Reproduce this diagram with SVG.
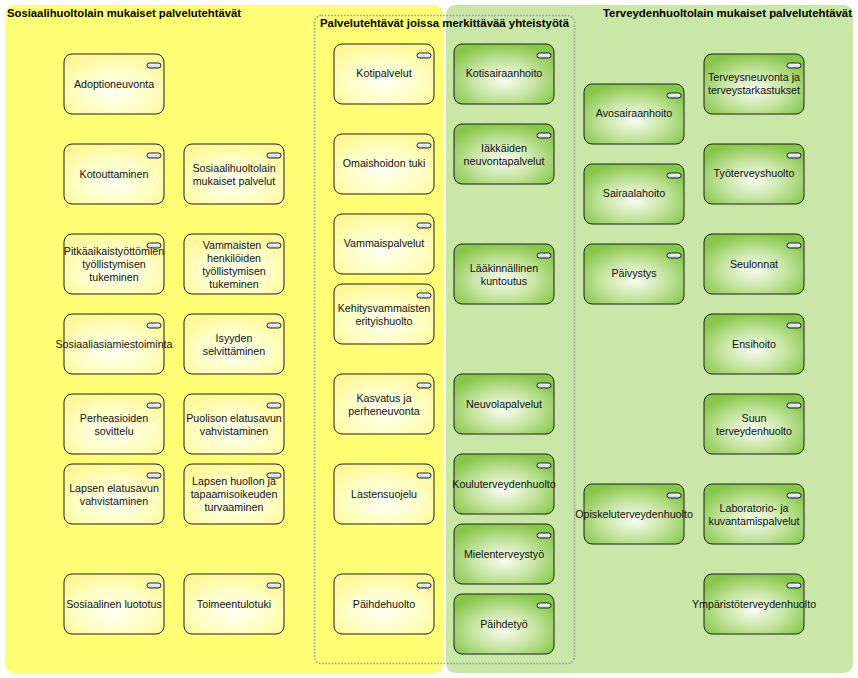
<svg xmlns="http://www.w3.org/2000/svg" width="858" height="678" viewBox="0 0 858 678">
<defs>
<radialGradient id="gy" cx="0.5" cy="0.62" r="0.62">
<stop offset="0" stop-color="#fffff4"/>
<stop offset="0.55" stop-color="#ffffc8"/>
<stop offset="1" stop-color="#fff89a"/>
</radialGradient>
<radialGradient id="gg" cx="0.5" cy="0.6" r="0.62">
<stop offset="0" stop-color="#f9fdf4"/>
<stop offset="0.5" stop-color="#c6e5a2"/>
<stop offset="1" stop-color="#86c648"/>
</radialGradient>
<linearGradient id="gp" x1="0" y1="0" x2="0" y2="1">
<stop offset="0" stop-color="#ffffff"/>
<stop offset="1" stop-color="#bcd2ea"/>
</linearGradient>
</defs>
<style>
.box{stroke:#1e1e1e;stroke-width:1}
.yellow .box{fill:url(#gy)}
.green .box{fill:url(#gg)}
.pill{fill:url(#gp);stroke:#1e1e1e;stroke-width:1}
.node text{font-family:"Liberation Sans",Arial,sans-serif;font-size:10.7px;fill:#111;text-anchor:middle}
.title{font-family:"Liberation Sans",Arial,sans-serif;font-size:11.5px;font-weight:bold;fill:#000}
</style>
<rect width="858" height="678" fill="#ffffff"/>
<g id="grp-sosiaali">
<rect x="5" y="5" width="438" height="668" rx="9" fill="#ffff75"/>
<text class="title" x="7" y="17" textLength="234" lengthAdjust="spacingAndGlyphs">Sosiaalihuoltolain mukaiset palvelutehtävät</text>
</g>
<g id="grp-terveys">
<rect x="446" y="5" width="407" height="668" rx="9" fill="#c9e7a7"/>
<text class="title" x="603" y="17" textLength="249" lengthAdjust="spacingAndGlyphs">Terveydenhuoltolain mukaiset palvelutehtävät</text>
</g>
<g id="grp-yhteistyo">
<rect x="314.5" y="15.5" width="260" height="648" rx="7" fill="none" stroke="#9a9a9a" stroke-width="1.6" stroke-dasharray="1.6,1.6"/>
<text class="title" x="320" y="27" textLength="249" lengthAdjust="spacingAndGlyphs">Palvelutehtävät joissa merkittävää yhteistyötä</text>
</g>
<g id="connectors"></g>

<g id="n-adoptioneuvonta" class="node yellow" transform="translate(64,54)"><rect class="box" width="100" height="60" rx="8"/><rect class="pill" x="83" y="9" width="14" height="5" rx="2.5"/><text x="50" y="34">Adoptioneuvonta</text></g>
<g id="n-kotouttaminen" class="node yellow" transform="translate(64,144)"><rect class="box" width="100" height="60" rx="8"/><rect class="pill" x="83" y="9" width="14" height="5" rx="2.5"/><text x="50" y="34">Kotouttaminen</text></g>
<g id="n-sosiaalihuoltolain-palvelut" class="node yellow" transform="translate(184,144)"><rect class="box" width="100" height="60" rx="8"/><rect class="pill" x="83" y="9" width="14" height="5" rx="2.5"/><text x="50" y="28">Sosiaalihuoltolain</text><text x="50" y="41">mukaiset palvelut</text></g>
<g id="n-pitkaaikaistyottomien" class="node yellow" transform="translate(64,234)"><rect class="box" width="100" height="60" rx="8"/><rect class="pill" x="83" y="9" width="14" height="5" rx="2.5"/><text x="50" y="21">Pitkäaikaistyöttömien</text><text x="50" y="34">työllistymisen</text><text x="50" y="47">tukeminen</text></g>
<g id="n-vammaisten-tyollistyminen" class="node yellow" transform="translate(184,234)"><rect class="box" width="100" height="60" rx="8"/><rect class="pill" x="83" y="9" width="14" height="5" rx="2.5"/><text x="48" y="15">Vammaisten</text><text x="50" y="28">henkilöiden</text><text x="50" y="41">työllistymisen</text><text x="50" y="54">tukeminen</text></g>
<g id="n-sosiaaliasiamiestoiminta" class="node yellow" transform="translate(64,314)"><rect class="box" width="100" height="60" rx="8"/><rect class="pill" x="83" y="9" width="14" height="5" rx="2.5"/><text x="50" y="34">Sosiaaliasiamiestoiminta</text></g>
<g id="n-isyyden" class="node yellow" transform="translate(184,314)"><rect class="box" width="100" height="60" rx="8"/><rect class="pill" x="83" y="9" width="14" height="5" rx="2.5"/><text x="50" y="28">Isyyden</text><text x="50" y="41">selvittäminen</text></g>
<g id="n-perheasioiden" class="node yellow" transform="translate(64,394)"><rect class="box" width="100" height="60" rx="8"/><rect class="pill" x="83" y="9" width="14" height="5" rx="2.5"/><text x="50" y="28">Perheasioiden</text><text x="50" y="41">sovittelu</text></g>
<g id="n-puolison-elatusavun" class="node yellow" transform="translate(184,394)"><rect class="box" width="100" height="60" rx="8"/><rect class="pill" x="83" y="9" width="14" height="5" rx="2.5"/><text x="50" y="28">Puolison elatusavun</text><text x="50" y="41">vahvistaminen</text></g>
<g id="n-lapsen-elatusavun" class="node yellow" transform="translate(64,464)"><rect class="box" width="100" height="60" rx="8"/><rect class="pill" x="83" y="9" width="14" height="5" rx="2.5"/><text x="50" y="28">Lapsen elatusavun</text><text x="50" y="41">vahvistaminen</text></g>
<g id="n-lapsen-huollon" class="node yellow" transform="translate(184,464)"><rect class="box" width="100" height="60" rx="8"/><rect class="pill" x="83" y="9" width="14" height="5" rx="2.5"/><text x="50" y="21">Lapsen huollon ja</text><text x="50" y="34">tapaamisoikeuden</text><text x="50" y="47">turvaaminen</text></g>
<g id="n-sosiaalinen-luototus" class="node yellow" transform="translate(64,574)"><rect class="box" width="100" height="60" rx="8"/><rect class="pill" x="83" y="9" width="14" height="5" rx="2.5"/><text x="50" y="34">Sosiaalinen luototus</text></g>
<g id="n-toimeentulotuki" class="node yellow" transform="translate(184,574)"><rect class="box" width="100" height="60" rx="8"/><rect class="pill" x="83" y="9" width="14" height="5" rx="2.5"/><text x="50" y="34">Toimeentulotuki</text></g>

<g id="n-kotipalvelut" class="node yellow" transform="translate(334,44)"><rect class="box" width="100" height="60" rx="8"/><rect class="pill" x="83" y="9" width="14" height="5" rx="2.5"/><text x="50" y="33">Kotipalvelut</text></g>
<g id="n-omaishoidon-tuki" class="node yellow" transform="translate(334,134)"><rect class="box" width="100" height="60" rx="8"/><rect class="pill" x="83" y="9" width="14" height="5" rx="2.5"/><text x="50" y="33">Omaishoidon tuki</text></g>
<g id="n-vammaispalvelut" class="node yellow" transform="translate(334,214)"><rect class="box" width="100" height="60" rx="8"/><rect class="pill" x="83" y="9" width="14" height="5" rx="2.5"/><text x="50" y="33">Vammaispalvelut</text></g>
<g id="n-kehitysvammaisten" class="node yellow" transform="translate(334,284)"><rect class="box" width="100" height="60" rx="8"/><rect class="pill" x="83" y="9" width="14" height="5" rx="2.5"/><text x="50" y="28">Kehitysvammaisten</text><text x="50" y="41">erityishuolto</text></g>
<g id="n-kasvatus" class="node yellow" transform="translate(334,374)"><rect class="box" width="100" height="60" rx="8"/><rect class="pill" x="83" y="9" width="14" height="5" rx="2.5"/><text x="50" y="28">Kasvatus ja</text><text x="50" y="41">perheneuvonta</text></g>
<g id="n-lastensuojelu" class="node yellow" transform="translate(334,464)"><rect class="box" width="100" height="60" rx="8"/><rect class="pill" x="83" y="9" width="14" height="5" rx="2.5"/><text x="50" y="34">Lastensuojelu</text></g>
<g id="n-paihdehuolto" class="node yellow" transform="translate(334,574)"><rect class="box" width="100" height="60" rx="8"/><rect class="pill" x="83" y="9" width="14" height="5" rx="2.5"/><text x="50" y="34">Päihdehuolto</text></g>

<g id="n-kotisairaanhoito" class="node green" transform="translate(454,44)"><rect class="box" width="100" height="60" rx="8"/><rect class="pill" x="83" y="9" width="14" height="5" rx="2.5"/><text x="50" y="33">Kotisairaanhoito</text></g>
<g id="n-iakkaiden" class="node green" transform="translate(454,124)"><rect class="box" width="100" height="60" rx="8"/><rect class="pill" x="83" y="9" width="14" height="5" rx="2.5"/><text x="50" y="28">Iäkkäiden</text><text x="50" y="41">neuvontapalvelut</text></g>
<g id="n-laakinnallinen" class="node green" transform="translate(454,244)"><rect class="box" width="100" height="60" rx="8"/><rect class="pill" x="83" y="9" width="14" height="5" rx="2.5"/><text x="50" y="28">Lääkinnällinen</text><text x="50" y="41">kuntoutus</text></g>
<g id="n-neuvolapalvelut" class="node green" transform="translate(454,374)"><rect class="box" width="100" height="60" rx="8"/><rect class="pill" x="83" y="9" width="14" height="5" rx="2.5"/><text x="50" y="34">Neuvolapalvelut</text></g>
<g id="n-kouluterveydenhuolto" class="node green" transform="translate(454,454)"><rect class="box" width="100" height="60" rx="8"/><rect class="pill" x="83" y="9" width="14" height="5" rx="2.5"/><text x="50" y="34">Kouluterveydenhuolto</text></g>
<g id="n-mielenterveystyo" class="node green" transform="translate(454,524)"><rect class="box" width="100" height="60" rx="8"/><rect class="pill" x="83" y="9" width="14" height="5" rx="2.5"/><text x="50" y="34">Mielenterveystyö</text></g>
<g id="n-paihdetyo" class="node green" transform="translate(454,594)"><rect class="box" width="100" height="60" rx="8"/><rect class="pill" x="83" y="9" width="14" height="5" rx="2.5"/><text x="50" y="34">Päihdetyö</text></g>

<g id="n-avosairaanhoito" class="node green" transform="translate(584,84)"><rect class="box" width="100" height="60" rx="8"/><rect class="pill" x="83" y="9" width="14" height="5" rx="2.5"/><text x="50" y="33">Avosairaanhoito</text></g>
<g id="n-sairaalahoito" class="node green" transform="translate(584,164)"><rect class="box" width="100" height="60" rx="8"/><rect class="pill" x="83" y="9" width="14" height="5" rx="2.5"/><text x="50" y="33">Sairaalahoito</text></g>
<g id="n-paivystys" class="node green" transform="translate(584,244)"><rect class="box" width="100" height="60" rx="8"/><rect class="pill" x="83" y="9" width="14" height="5" rx="2.5"/><text x="50" y="33">Päivystys</text></g>
<g id="n-opiskeluterveydenhuolto" class="node green" transform="translate(584,484)"><rect class="box" width="100" height="60" rx="8"/><rect class="pill" x="83" y="9" width="14" height="5" rx="2.5"/><text x="50" y="34">Opiskeluterveydenhuolto</text></g>

<g id="n-terveysneuvonta" class="node green" transform="translate(704,54)"><rect class="box" width="100" height="60" rx="8"/><rect class="pill" x="83" y="9" width="14" height="5" rx="2.5"/><text x="50" y="27">Terveysneuvonta ja</text><text x="50" y="40">terveystarkastukset</text></g>
<g id="n-tyoterveyshuolto" class="node green" transform="translate(704,144)"><rect class="box" width="100" height="60" rx="8"/><rect class="pill" x="83" y="9" width="14" height="5" rx="2.5"/><text x="50" y="33">Työterveyshuolto</text></g>
<g id="n-seulonnat" class="node green" transform="translate(704,234)"><rect class="box" width="100" height="60" rx="8"/><rect class="pill" x="83" y="9" width="14" height="5" rx="2.5"/><text x="50" y="34">Seulonnat</text></g>
<g id="n-ensihoito" class="node green" transform="translate(704,314)"><rect class="box" width="100" height="60" rx="8"/><rect class="pill" x="83" y="9" width="14" height="5" rx="2.5"/><text x="50" y="34">Ensihoito</text></g>
<g id="n-suun-terveydenhuolto" class="node green" transform="translate(704,394)"><rect class="box" width="100" height="60" rx="8"/><rect class="pill" x="83" y="9" width="14" height="5" rx="2.5"/><text x="50" y="28">Suun</text><text x="50" y="41">terveydenhuolto</text></g>
<g id="n-laboratorio" class="node green" transform="translate(704,484)"><rect class="box" width="100" height="60" rx="8"/><rect class="pill" x="83" y="9" width="14" height="5" rx="2.5"/><text x="50" y="28">Laboratorio- ja</text><text x="50" y="41">kuvantamispalvelut</text></g>
<g id="n-ymparistoterveydenhuolto" class="node green" transform="translate(704,574)"><rect class="box" width="100" height="60" rx="8"/><rect class="pill" x="83" y="9" width="14" height="5" rx="2.5"/><text x="50" y="34">Ympäristöterveydenhuolto</text></g>
</svg>
